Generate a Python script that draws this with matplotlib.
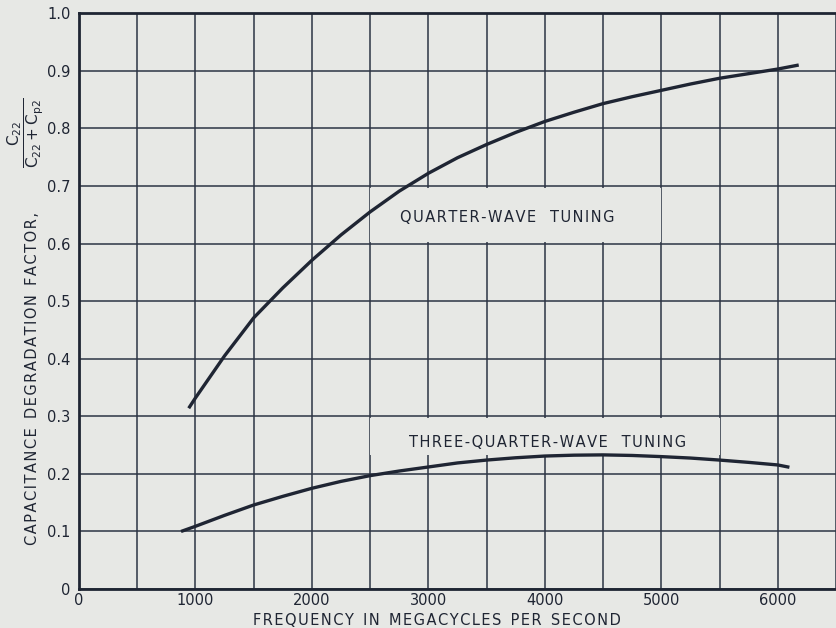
import matplotlib.pyplot as plt
from matplotlib.patches import Rectangle
import numpy as np

# values (frequency in Mc/s)
quarter_freq = [942, 1000, 1250, 1500, 1750, 2000, 2250, 2500, 2750, 3000, 3250, 3500,
                3750, 4000, 4250, 4500, 4750, 5000, 5250, 5500, 5750, 6000, 6180]
quarter_val = [0.314, 0.332, 0.405, 0.471, 0.523, 0.571, 0.615, 0.655, 0.691, 0.722, 0.749, 0.772,
               0.793, 0.812, 0.828, 0.843, 0.855, 0.866, 0.877, 0.887, 0.895, 0.903, 0.910]

three_q_freq = [876, 1000, 1250, 1500, 1750, 2000, 2250, 2500, 2750, 3000, 3250, 3500,
                3750, 4000, 4250, 4500, 4750, 5000, 5250, 5500, 5750, 6000, 6100]
three_q_val = [0.100, 0.109, 0.128, 0.146, 0.161, 0.175, 0.187, 0.197, 0.205, 0.212, 0.219, 0.224,
               0.228, 0.231, 0.2325, 0.233, 0.232, 0.230, 0.2275, 0.224, 0.220, 0.2155, 0.2115]

x_labels = ['0', '1000', '2000', '3000', '4000', '5000', '6000']
y_labels = ['0', '0.1', '0.2', '0.3', '0.4', '0.5', '0.6', '0.7', '0.8', '0.9', '1.0']

bg = '#e7e8e5'
ink = '#1f2533'
grid_c = '#2c3444'


def spaced(text, gap='  '):
    # wide letter spacing like the original lettering (hair spaces)
    return gap.join('\u200a'.join(w) for w in text.split())


plt.rcParams['mathtext.default'] = 'regular'
plt.rcParams['font.family'] = 'DejaVu Sans'

fig = plt.figure(figsize=(8.36, 6.28), dpi=100, facecolor=bg)
ax = fig.add_axes([0.0945, 0.062, 0.9055, 0.917], facecolor=bg)

ax.set_xlim(0, 6500)
ax.set_ylim(0, 1.0)

ax.set_xticks(np.arange(0, 6001, 1000))
ax.set_xticklabels(x_labels)
ax.set_xticks(np.arange(500, 6501, 1000), minor=True)
ax.set_yticks(np.arange(0, 1.01, 0.1))
ax.set_yticklabels(y_labels)
ax.tick_params(which='both', length=0, labelsize=10.5, colors=ink)
ax.tick_params(axis='x', pad=3)
ax.tick_params(axis='y', pad=6)

ax.set_axisbelow(True)
ax.grid(True, which='both', color=grid_c, linewidth=1.1)

for s in ['left', 'bottom', 'top']:
    ax.spines[s].set_color(ink)
    ax.spines[s].set_linewidth(2)
ax.spines['right'].set_visible(False)

# background panels behind the curve labels (hide grid lines there)
ax.add_patch(Rectangle((2500, 0.603), 2500, 0.094, facecolor=bg, edgecolor='none', zorder=1))
ax.add_patch(Rectangle((2500, 0.232), 3000, 0.065, facecolor=bg, edgecolor='none', zorder=1))

ax.plot(quarter_freq, quarter_val, color=ink, linewidth=2.4, zorder=3, solid_capstyle='butt')
ax.plot(three_q_freq, three_q_val, color=ink, linewidth=2.4, zorder=3, solid_capstyle='butt')

ax.text(3680, 0.646, spaced('QUARTER-WAVE TUNING', '   '), ha='center', va='center',
        fontsize=10.5, color=ink, zorder=4)
ax.text(4020, 0.254, spaced('THREE-QUARTER-WAVE TUNING', '   '), ha='center', va='center',
        fontsize=10.5, color=ink, zorder=4)

ax.set_xlabel(spaced('FREQUENCY IN MEGACYCLES PER SECOND'), fontsize=10.5, color=ink)
ax.xaxis.set_label_coords((437 - 79) / 757, -0.041)

ax.set_ylabel(spaced('CAPACITANCE DEGRADATION FACTOR,'), fontsize=10.5, color=ink)
ax.yaxis.set_label_coords(-0.052, 0.366)

# the ratio part of the axis title, drawn as a stacked fraction
fig.text(26 / 836, 1 - 133 / 628, r'$\dfrac{C_{22}}{C_{22}+C_{p2}}$', rotation=90,
         ha='center', va='center', fontsize=11, color=ink)

fig.savefig('out.png', dpi=100, facecolor=bg)
